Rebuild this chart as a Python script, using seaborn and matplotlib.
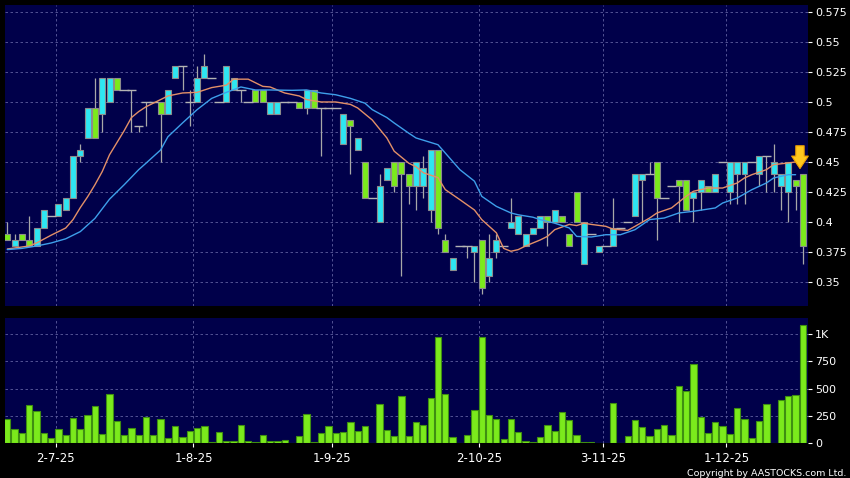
import numpy as np
import matplotlib
matplotlib.use("Agg")
import matplotlib.pyplot as plt
import seaborn as sns

# daily OHLC (oldest -> newest)
opens = [0.39, 0.38, 0.39, 0.385, 0.38, 0.395, 0.405, 0.405, 0.41, 0.42,
         0.455, 0.47, 0.495, 0.49, 0.50, 0.52, 0.51, 0.51, 0.48, 0.50,
         0.50, 0.50, 0.49, 0.52, 0.53, 0.50, 0.50, 0.52, 0.52, 0.50,
         0.50, 0.51, 0.51, 0.50, 0.51, 0.51, 0.49, 0.49, 0.50, 0.50,
         0.50, 0.495, 0.51, 0.495, 0.495, 0.495, 0.465, 0.485, 0.46, 0.45,
         0.42, 0.40, 0.435, 0.45, 0.45, 0.44, 0.43, 0.43, 0.41, 0.46,
         0.385, 0.36, 0.38, 0.38, 0.375, 0.385, 0.355, 0.375, 0.38, 0.395,
         0.39, 0.38, 0.39, 0.395, 0.405, 0.40, 0.405, 0.39, 0.425, 0.365,
         0.39, 0.375, 0.38, 0.38, 0.395, 0.40, 0.405, 0.435, 0.44, 0.45,
         0.42, 0.43, 0.435, 0.435, 0.42, 0.425, 0.43, 0.425, 0.45, 0.425,
         0.44, 0.44, 0.45, 0.44, 0.455, 0.44, 0.43, 0.425, 0.435, 0.44]
highs = [0.40, 0.39, 0.39, 0.405, 0.395, 0.41, 0.405, 0.415, 0.42, 0.455,
         0.465, 0.495, 0.52, 0.52, 0.52, 0.52, 0.51, 0.51, 0.48, 0.50,
         0.50, 0.50, 0.51, 0.53, 0.53, 0.51, 0.53, 0.54, 0.52, 0.50,
         0.53, 0.52, 0.51, 0.50, 0.51, 0.51, 0.50, 0.50, 0.50, 0.50,
         0.50, 0.51, 0.51, 0.495, 0.495, 0.495, 0.49, 0.485, 0.47, 0.45,
         0.42, 0.44, 0.445, 0.45, 0.45, 0.44, 0.45, 0.455, 0.46, 0.46,
         0.39, 0.37, 0.38, 0.38, 0.38, 0.385, 0.39, 0.39, 0.38, 0.42,
         0.405, 0.39, 0.395, 0.405, 0.405, 0.41, 0.405, 0.39, 0.425, 0.40,
         0.39, 0.38, 0.38, 0.42, 0.395, 0.40, 0.44, 0.44, 0.45, 0.45,
         0.42, 0.43, 0.435, 0.435, 0.425, 0.435, 0.43, 0.44, 0.45, 0.45,
         0.45, 0.45, 0.45, 0.455, 0.455, 0.465, 0.44, 0.45, 0.435, 0.44]
lows = [0.385, 0.38, 0.385, 0.38, 0.38, 0.395, 0.405, 0.405, 0.41, 0.42,
        0.45, 0.47, 0.47, 0.475, 0.50, 0.51, 0.51, 0.475, 0.475, 0.48,
        0.50, 0.45, 0.49, 0.52, 0.51, 0.48, 0.50, 0.52, 0.52, 0.50,
        0.50, 0.51, 0.50, 0.50, 0.50, 0.50, 0.49, 0.49, 0.50, 0.50,
        0.495, 0.49, 0.495, 0.455, 0.495, 0.495, 0.465, 0.44, 0.46, 0.42,
        0.42, 0.40, 0.435, 0.425, 0.355, 0.415, 0.41, 0.42, 0.40, 0.39,
        0.375, 0.36, 0.38, 0.37, 0.35, 0.34, 0.35, 0.37, 0.38, 0.395,
        0.39, 0.38, 0.39, 0.395, 0.38, 0.40, 0.40, 0.38, 0.40, 0.365,
        0.39, 0.375, 0.38, 0.38, 0.395, 0.40, 0.405, 0.40, 0.44, 0.385,
        0.42, 0.43, 0.40, 0.41, 0.40, 0.41, 0.425, 0.425, 0.45, 0.415,
        0.415, 0.415, 0.45, 0.43, 0.425, 0.425, 0.41, 0.40, 0.41, 0.365]
closes = [0.385, 0.385, 0.385, 0.38, 0.395, 0.41, 0.405, 0.415, 0.42, 0.455,
          0.46, 0.495, 0.47, 0.52, 0.52, 0.51, 0.51, 0.51, 0.48, 0.50,
          0.50, 0.49, 0.51, 0.53, 0.53, 0.50, 0.52, 0.53, 0.52, 0.50,
          0.53, 0.52, 0.51, 0.50, 0.50, 0.50, 0.50, 0.50, 0.50, 0.50,
          0.495, 0.51, 0.495, 0.495, 0.495, 0.495, 0.49, 0.48, 0.47, 0.42,
          0.42, 0.43, 0.445, 0.43, 0.44, 0.43, 0.45, 0.445, 0.46, 0.395,
          0.375, 0.37, 0.38, 0.38, 0.38, 0.345, 0.37, 0.385, 0.38, 0.40,
          0.405, 0.39, 0.395, 0.405, 0.40, 0.41, 0.40, 0.38, 0.40, 0.40,
          0.39, 0.38, 0.38, 0.395, 0.395, 0.40, 0.44, 0.44, 0.44, 0.42,
          0.42, 0.43, 0.43, 0.41, 0.425, 0.435, 0.425, 0.44, 0.45, 0.45,
          0.45, 0.45, 0.45, 0.455, 0.455, 0.45, 0.44, 0.45, 0.43, 0.38]
volumes = [226, 128, 98, 354, 293, 95, 46, 131, 73, 235,
           128, 262, 342, 82, 451, 201, 73, 140, 73, 244,
           73, 223, 49, 162, 61, 110, 137, 156, 8, 101,
           24, 18, 165, 24, 8, 76, 21, 21, 33, 0,
           70, 265, 8, 95, 162, 95, 104, 198, 113, 162,
           0, 363, 119, 70, 436, 70, 192, 165, 415, 968,
           451, 55, 0, 80, 308, 968, 258, 223, 43, 222,
           107, 21, 10, 58, 166, 112, 285, 212, 75, 11,
           8, 0, 0, 371, 0, 64, 212, 148, 67, 135,
           166, 76, 526, 474, 725, 242, 95, 199, 162, 86,
           321, 224, 46, 202, 364, 0, 400, 434, 440, 1083]

# moving averages, read at selected sessions
ma_short_day = [0, 3, 4, 6, 8, 9, 10, 11, 12, 13, 14, 15, 16, 17, 18, 19, 21, 22, 24, 26,
                28, 30, 31, 33, 35, 36, 38, 40, 41, 43, 45, 47, 48, 50, 52, 53, 55, 56, 57, 59,
                60, 62, 64, 65, 67, 68, 69, 70, 71, 73, 74, 75, 77, 78, 79, 80, 82, 83, 85, 86,
                88, 89, 91, 93, 94, 96, 98, 100, 101, 102, 104, 105, 107, 108]
ma_short_val = [0.3775, 0.380, 0.3825, 0.389, 0.395, 0.402, 0.412, 0.421, 0.431, 0.442,
                0.456, 0.466, 0.476, 0.487, 0.492, 0.496, 0.502, 0.505, 0.5075, 0.508,
                0.512, 0.514, 0.519, 0.519, 0.513, 0.5125, 0.5075, 0.505, 0.502, 0.500,
                0.500, 0.498, 0.495, 0.485, 0.470, 0.459, 0.449, 0.446, 0.441, 0.437,
                0.427, 0.4186, 0.410, 0.402, 0.391, 0.378, 0.3756, 0.377, 0.380, 0.385,
                0.388, 0.3936, 0.398, 0.397, 0.399, 0.398, 0.3964, 0.394, 0.393, 0.3964,
                0.4033, 0.4075, 0.4117, 0.4214, 0.4256, 0.4283, 0.4283, 0.4325, 0.4367, 0.4394,
                0.4436, 0.4478, 0.4492, 0.450]
ma_long_day = [0, 2, 4, 6, 8, 10, 12, 14, 16, 18, 19, 21, 22, 24, 26, 28, 30, 32, 34, 36,
               39, 41, 43, 45, 47, 49, 50, 52, 53, 55, 56, 59, 60, 62, 64, 65, 67, 69, 70, 72,
               73, 75, 77, 78, 80, 82, 84, 86, 87, 88, 90, 92, 94, 97, 98, 100, 102, 104, 105, 107,
               108]
ma_long_val = [0.377, 0.378, 0.380, 0.3825, 0.386, 0.392, 0.403, 0.419, 0.431, 0.4436,
               0.449, 0.460, 0.471, 0.4825, 0.4936, 0.503, 0.508, 0.5125, 0.510, 0.510,
               0.5097, 0.510, 0.5075, 0.506, 0.503, 0.499, 0.4936, 0.487, 0.4825, 0.474,
               0.470, 0.4644, 0.4575, 0.4436, 0.434, 0.4214, 0.413, 0.4075, 0.406, 0.404,
               0.402, 0.399, 0.395, 0.388, 0.3875, 0.3894, 0.3894, 0.3936, 0.3978, 0.402,
               0.4033, 0.4075, 0.4089, 0.4117, 0.4158, 0.420, 0.4269, 0.4325, 0.4367, 0.4394,
               0.4394]

month_labels = ["2-7-25", "1-8-25", "1-9-25", "2-10-25", "3-11-25", "1-12-25"]
month_pos = [6.6, 25.5, 44.5, 64.6, 81.6, 98.5]
price_ticks = [0.35, 0.375, 0.4, 0.425, 0.45, 0.475, 0.5, 0.525, 0.55, 0.575]
vol_ticks = [0, 250, 500, 750, 1000]
vol_labels = ["0", "250", "500", "750", "1K"]

BG = "#00004a"
UP = "#2EE6F2"
DOWN = "#7BEA1C"
GRID = "#5f5f9f"

sns.set_theme(style="dark")
plt.rcParams["font.family"] = ["DejaVu Sans"]

fig = plt.figure(figsize=(8.5, 4.78), dpi=100, facecolor="black")
ax = fig.add_axes([5 / 850, 1 - 306 / 478, 803 / 850, 301 / 478])
axv = fig.add_axes([5 / 850, 1 - 443.3 / 478, 803 / 850, 125.3 / 478])

o = np.array(opens)
h = np.array(highs)
l = np.array(lows)
c = np.array(closes)
days = np.arange(len(o))

# --- price panel ---
ax.set_facecolor(BG)
ax.vlines(days, l, h, color="#a8a8a8", lw=0.9, zorder=2)
doji = o == c
body = ~doji
ax.bar(days[body], np.abs(c - o)[body], bottom=np.minimum(o, c)[body], width=0.82,
       color=np.where(c > o, UP, DOWN)[body], edgecolor="#8c8c8c", linewidth=0.8, zorder=3)
ax.hlines(c[doji], days[doji] - 0.65, days[doji] + 0.65, color="#b4b4b4", lw=1.0, zorder=3)
sns.lineplot(x=ma_short_day, y=ma_short_val, ax=ax, color="#E39068", lw=1.0, zorder=4)
sns.lineplot(x=ma_long_day, y=ma_long_val, ax=ax, color="#3E9FEA", lw=1.0, zorder=4)

ax.annotate("", xy=(108.6, 0.4445), xytext=(108.6, 0.4635),
            arrowprops=dict(arrowstyle="simple,head_length=0.75,head_width=1.0,tail_width=0.5",
                            fc="#FFC81E", ec="#F0A000", lw=0.8, shrinkA=0, shrinkB=0),
            zorder=6)

ax.set_xlim(-0.32, 109.7)
ax.set_ylim(0.33, 0.5808)
ax.set_yticks(price_ticks)
ax.set_yticklabels([f"{v:g}" for v in price_ticks])
ax.set_xticks(month_pos)
ax.set_xticklabels([])

# --- volume panel ---
axv.set_facecolor(BG)
sns.barplot(x=days, y=volumes, ax=axv, color=DOWN, saturation=1, width=0.86,
            edgecolor="#3f8f12", linewidth=0.8, zorder=3)
axv.set_xlim(-0.32, 109.7)
axv.set_ylim(0, 1146)
axv.set_yticks(vol_ticks)
axv.set_yticklabels(vol_labels)
axv.set_xticks(month_pos)
axv.set_xticklabels(month_labels)

for a in (ax, axv):
    a.set_xlabel("")
    a.set_ylabel("")
    for s in a.spines.values():
        s.set_visible(False)
    a.grid(True, color=GRID, ls=(0, (3, 3)), lw=0.6, zorder=0)
    a.set_axisbelow(True)
    a.yaxis.tick_right()
    a.tick_params(axis="y", colors="white", labelsize=8, length=3, width=0.8, pad=2,
                  right=True, left=False, labelright=True, labelleft=False)

ax.tick_params(axis="x", length=0, bottom=False, labelbottom=False)
axv.tick_params(axis="x", colors="white", labelsize=8.5, length=3, width=0.8, pad=3,
                bottom=True)

fig.text(0.996, 0.0, "Copyright by AASTOCKS.com Ltd.", ha="right", va="bottom",
         color="white", fontsize=6.8)

fig.savefig("out.png", dpi=100, facecolor="black")
